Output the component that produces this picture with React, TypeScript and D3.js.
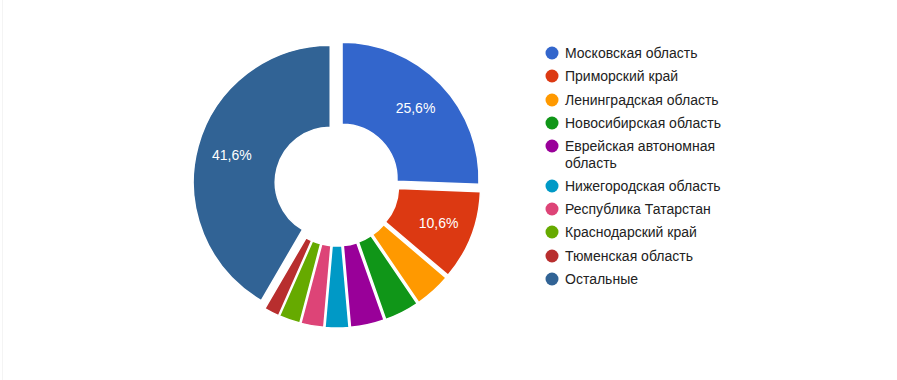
import React from "react";
import * as d3 from "d3";

const categories = [
  "Московская область",
  "Приморский край",
  "Ленинградская область",
  "Новосибирская область",
  "Еврейская автономная область",
  "Нижегородская область",
  "Республика Татарстан",
  "Краснодарский край",
  "Тюменская область",
  "Остальные",
];
const values = [25.6, 10.6, 4.3, 4.1, 4.0, 2.8, 2.7, 2.5, 1.8, 41.6];
const colors = ["#3366cc", "#dc3912", "#ff9900", "#109618", "#990099", "#0099c6", "#dd4477", "#66aa00", "#b82e2e", "#316395"];
const legendLines = [
  ["Московская область"],
  ["Приморский край"],
  ["Ленинградская область"],
  ["Новосибирская область"],
  ["Еврейская автономная", "область"],
  ["Нижегородская область"],
  ["Республика Татарстан"],
  ["Краснодарский край"],
  ["Тюменская область"],
  ["Остальные"],
];

export default function App() {
  const W = 897, H = 380;
  const cx = 337, cy = 184, R = 137, r = 55, off = 7;
  const total = d3.sum(values);
  const pie = d3.pie<number>().sort(null).value((d) => d);
  const arcs = pie(values);
  const arc = d3.arc<d3.PieArcDatum<number>>().innerRadius(r).outerRadius(R);
  const legendY = [53, 76, 100, 123, 146, 186, 209, 232, 256, 279];
  return (
    <svg width={W} height={H} style={{ position: "absolute", left: 0, top: 0, fontFamily: "'Liberation Sans', Arial, sans-serif" }}>
      <rect width={W} height={H} fill="#fff" />
      <line x1={2.5} x2={2.5} y1={0} y2={H} stroke="#f4f4f4" strokeWidth={1} />
      <g transform={`translate(${cx},${cy})`}>
        {arcs.map((a, i) => {
          const mid = (a.startAngle + a.endAngle) / 2;
          const dx = off * Math.sin(mid), dy = -off * Math.cos(mid);
          const pct = (values[i] / total) * 100;
          const lr = 102;
          return (
            <g key={i} transform={`translate(${dx},${dy})`}>
              <path d={arc(a) || ""} fill={colors[i]} stroke="#fff" strokeWidth={1.5} />
              {pct >= 5 && (
                <text x={lr * Math.sin(mid)} y={-lr * Math.cos(mid)} dy="0.35em" textAnchor="middle" fill="#fff" fontSize={14}>
                  {pct.toFixed(1).replace(".", ",") + "%"}
                </text>
              )}
            </g>
          );
        })}
      </g>
      <g>
        {categories.map((c, i) => (
          <g key={c}>
            <circle cx={552} cy={legendY[i]} r={6.5} fill={colors[i]} />
            {legendLines[i].map((t, j) => (
              <text key={j} x={565} y={legendY[i] + j * 17} dy="0.35em" fontSize={14} fill="#222">
                {t}
              </text>
            ))}
          </g>
        ))}
      </g>
    </svg>
  );
}
